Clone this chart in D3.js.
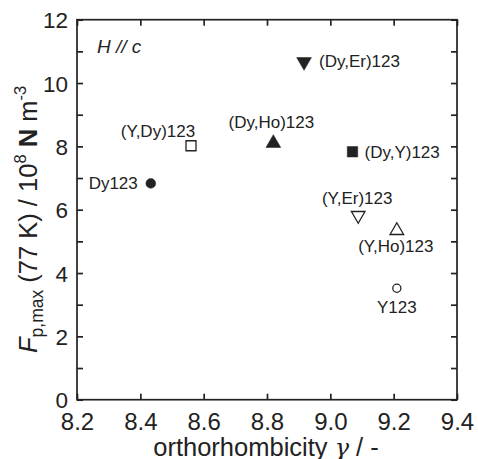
<!DOCTYPE html>
<html><head><meta charset="utf-8">
<script src="https://cdn.jsdelivr.net/npm/d3@7"></script>
<style>body{margin:0;background:#fff}svg{display:block}text{font-family:"Liberation Sans",Arial,sans-serif;fill:#222}</style>
</head><body><svg id="c" width="478" height="459"></svg>
<script>
const names = ["Dy123","(Y,Dy)123","(Dy,Ho)123","(Dy,Er)123","(Dy,Y)123","(Y,Er)123","(Y,Ho)123","Y123"];
const gamma = [8.433, 8.56, 8.82, 8.917, 9.07, 9.088, 9.21, 9.21];
const fp    = [6.83, 8.02, 8.10, 10.67, 7.83, 5.82, 5.34, 3.52];
const shapes = ["circle","square","triUp","triDown","square","triDown","triUp","circle"];
const filled = [true, false, true, true, true, false, false, false];
const xTicks = [8.2, 8.4, 8.6, 8.8, 9.0, 9.2, 9.4];
const yTicks = [0, 2, 4, 6, 8, 10, 12];
const yMinor = [1, 3, 5, 7, 9, 11];

// label placement (px offsets from marker)
const labelPos = {
  "Dy123":[-13,6,"end"], "(Y,Dy)123":[-33,-9,"middle"], "(Dy,Ho)123":[-2,-15,"middle"],
  "(Dy,Er)123":[15,5,"start"], "(Dy,Y)123":[12,6,"start"], "(Y,Er)123":[-1,-11,"middle"],
  "(Y,Ho)123":[-1,21,"middle"], "Y123":[0,25,"middle"]
};

const L=77,R=457,T=19.7,B=399.7;
const x=d3.scaleLinear().domain([8.2,9.4]).range([L,R]);
const y=d3.scaleLinear().domain([0,12]).range([B,T]);
const svg=d3.select("#c");
const col="#222";

// frame
svg.append("rect").attr("x",L).attr("y",T).attr("width",R-L).attr("height",B-T)
  .attr("fill","none").attr("stroke",col).attr("stroke-width",1.7);

// axes with inward ticks
const tl=6;
const gx=svg.append("g").attr("transform",`translate(0,${B})`)
  .call(d3.axisBottom(x).tickValues(xTicks).tickFormat(d3.format(".1f")).tickSizeInner(-tl).tickSizeOuter(0).tickPadding(13));
const gxt=svg.append("g").attr("transform",`translate(0,${T})`)
  .call(d3.axisTop(x).tickValues(xTicks).tickFormat("").tickSizeInner(-tl).tickSizeOuter(0));
const gy=svg.append("g").attr("transform",`translate(${L},0)`)
  .call(d3.axisLeft(y).tickValues(yTicks).tickFormat(d3.format("d")).tickSizeInner(-tl).tickSizeOuter(0).tickPadding(9));
const gym=svg.append("g").attr("transform",`translate(${L},0)`)
  .call(d3.axisLeft(y).tickValues(yMinor).tickFormat("").tickSizeInner(-tl).tickSizeOuter(0));
const gyr=svg.append("g").attr("transform",`translate(${R},0)`)
  .call(d3.axisRight(y).tickValues(yTicks.concat(yMinor)).tickFormat("").tickSizeInner(-tl).tickSizeOuter(0));
[gx,gxt,gy,gym,gyr].forEach(g=>{
  g.select(".domain").remove();
  g.selectAll("line").attr("stroke",col).attr("stroke-width",1.7);
  g.selectAll("text").attr("font-size",22.5).attr("fill",col).style("font-family","'Liberation Sans',Arial,sans-serif");
});
gx.selectAll("text").attr("font-size",24).attr("dy","0.71em");
gy.selectAll("text").attr("dy","0.36em");

// markers
const sym={circle:d3.symbolCircle,square:d3.symbolSquare,triUp:d3.symbolTriangle,triDown:d3.symbolTriangle};
const sz={circle:[75,52],square:[110,100],triUp:[95,80],triDown:[95,80]};
names.forEach((n,i)=>{
  const s=shapes[i];
  const size=filled[i]?sz[s][0]:sz[s][1];
  svg.append("path").attr("d",d3.symbol().type(sym[s]).size(size)())
    .attr("transform",`translate(${x(gamma[i])},${y(fp[i])})`+(s==="triDown"?" rotate(180)":""))
    .attr("fill",filled[i]?col:"#fff").attr("stroke",col).attr("stroke-width",filled[i]?0.5:1.3);
  const p=labelPos[n];
  svg.append("text").attr("x",x(gamma[i])+p[0]).attr("y",y(fp[i])+p[1])
    .attr("text-anchor",p[2]).attr("font-size",17).text(n);
});

// annotation
svg.append("text").attr("x",97).attr("y",53).attr("font-size",19).attr("font-style","italic").text("H // c");

// x title
const xt=svg.append("text").attr("x",266).attr("y",456).attr("text-anchor","middle").attr("font-size",25.5);
xt.append("tspan").text("orthorhombicity ");
xt.append("tspan").attr("font-style","italic").attr("font-family","'DejaVu Serif',serif").attr("font-size",24).text("γ");
xt.append("tspan").text(" / -");

// y title
const yt=svg.append("text").attr("transform",`translate(37,353) rotate(-90)`).attr("text-anchor","start").attr("font-size",25.5);
yt.append("tspan").attr("font-style","italic").text("F");
yt.append("tspan").attr("font-size",17.5).attr("dy",6).text("p,max");
yt.append("tspan").attr("dy",-6).text(" (77 K) / 10");
yt.append("tspan").attr("font-size",16.5).attr("dy",-11).text("8");
yt.append("tspan").attr("dy",11).attr("font-weight","bold").text(" N");
yt.append("tspan").text(" m");
yt.append("tspan").attr("font-size",16.5).attr("dy",-11).text("-3");
</script></body></html>
